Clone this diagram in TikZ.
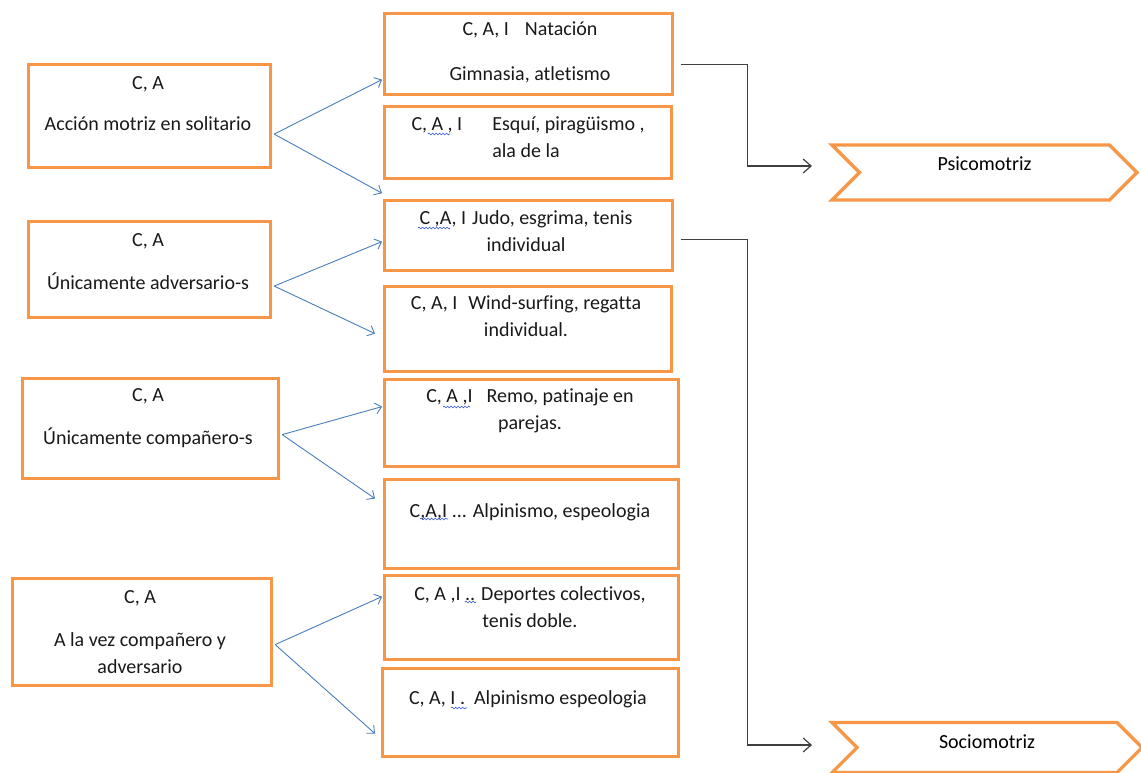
\documentclass[tikz,border=0pt]{standalone}
\usepackage{fontspec}
\setmainfont{Carlito}[Ligatures=NoCommon]
\usetikzlibrary{arrows.meta,shapes.symbols,positioning,decorations.pathmorphing}

\definecolor{boxorange}{HTML}{F79646}
\definecolor{linkblue}{HTML}{4A7EBB}
\definecolor{linkgray}{HTML}{404040}
\definecolor{squig}{HTML}{3050E0}

\tikzset{
  box/.style={draw=boxorange, line width=3.2pt, anchor=north west, inner sep=0pt},
  txt/.style={font=\fontsize{20}{27}\selectfont, align=center, text=black!90},
  flag/.style={signal, signal from=west, signal to=east, signal pointer angle=90,
    draw=boxorange, line width=3.2pt, inner sep=0pt, font=\fontsize{20}{24}\selectfont},
  fan/.style={draw=linkblue, line width=0.9pt, -{Straight Barb[length=6pt,width=11pt]}},
  link/.style={draw=linkgray, line width=1.2pt, -{Straight Barb[length=8pt,width=14pt]}},
  wave/.style={draw=squig, line width=0.6pt, decorate,
    decoration={snake, amplitude=0.9pt, segment length=3.5pt}}
}

\begin{document}
\begin{tikzpicture}[x=1pt, y=-1pt]
\useasboundingbox (0,0) rectangle (1141,773);

% left column
\node[box, minimum width=242, minimum height=103] (l1) at (27,63) {};
\node[box, minimum width=242, minimum height=96] (l2) at (27,220) {};
\node[box, minimum width=256, minimum height=100] (l3) at (21,377) {};
\node[box, minimum width=259, minimum height=107] (l4) at (11,577) {};
\node[txt] (l1t) at (148,103.5) {C, A\\[14pt]Acción motriz en solitario};
\node[txt] (l2t) at (148,261.5) {C, A\\[16pt]Únicamente adversario-s};
\node[txt] (l3t) at (148,418.5) {C, A\\[16pt]Únicamente compañero-s};
\node[txt] (l4t) at (140,632) {C, A\\[16pt]A la vez compañero y\\adversario};

% middle column
\node[box, minimum width=288, minimum height=81] (m1) at (383,12) {};
\node[box, minimum width=287, minimum height=72] (m2) at (383,105) {};
\node[box, minimum width=288, minimum height=70] (m3) at (383,199) {};
\node[box, minimum width=287, minimum height=85] (m4) at (383,285) {};
\node[box, minimum width=294, minimum height=87] (m5) at (383,378) {};
\node[box, minimum width=294, minimum height=89] (m6) at (383,478) {};
\node[box, minimum width=294, minimum height=84] (m7) at (383,574) {};
\node[box, minimum width=296, minimum height=88] (m8) at (381,667) {};
\node[txt] (m1t) at (530,52.5) {C, A, I\hspace{16pt}Natación\\[18pt]Gimnasia, atletismo};
\node[txt, anchor=west] (m2t) at (408,138.5)
  {\begin{tabular}{@{}l@{\hspace{30pt}}l@{}}C, A , I & Esquí, piragüismo ,\\ & ala de la\end{tabular}};
\node[txt] (m3t) at (526,231.5) {C ,A, I\hspace{6pt}Judo, esgrima, tenis\\individual};
\node[txt] (m4t) at (526,316.5) {C, A, I\hspace{11pt}Wind-surfing, regatta\\individual.};
\node[txt] (m5t) at (530,411) {C, A ,I\hspace{14pt}Remo, patinaje en\\parejas.};
\node[txt] (m6t) at (530,512) {C,A,I ... Alpinismo, espeologia};
\node[txt] (m7t) at (530,607) {C, A ,I .. Deportes colectivos,\\tenis doble.};
\node[txt] (m8t) at (528,699) {C, A, I .\ \ Alpinismo espeologia};

% spell-check waves
\draw[wave] (428,134) -- (450,134);
\draw[wave] (418,228) -- (450,228);
\draw[wave] (443,407) -- (470,407);
\draw[wave] (420,519) -- (448,519);
\draw[wave] (465,602) -- (476,602);
\draw[wave] (451,708) -- (467,708);

% right column
\node[flag, minimum width=305, minimum height=55, text depth=18pt] (psico) at (984.5,172.5) {Psicomotriz};
\node[flag, minimum width=310, minimum height=50, text depth=11pt] (socio) at (987,747.5) {Sociomotriz};
\coordinate (psin) at (812,166);
\coordinate (soin) at (812,745);

% blue arrows
\draw[fan] ([shift={(2,18)}]l1.east) -- ([shift={(-1,25.5)}]m1.west);
\draw[fan] ([shift={(2,18)}]l1.east) -- ([shift={(-1,13)}]m2.south west);
\draw[fan] ([shift={(2,16.5)}]l2.east) -- ([shift={(-1,6)}]m3.west);
\draw[fan] ([shift={(2,16.5)}]l2.east) -- ([shift={(-8,4.5)}]m4.west);
\draw[fan] ([shift={(2,6)}]l3.east) -- ([shift={(-1,-16.5)}]m5.west);
\draw[fan] ([shift={(2,6)}]l3.east) -- ([shift={(-8,-25.5)}]m6.west);
\draw[fan] ([shift={(2,12.5)}]l4.east) -- ([shift={(-1,-21)}]m7.west);
\draw[fan] ([shift={(2,12.5)}]l4.east) -- ([shift={(-6,21)}]m8.west);

% to the two kinds
\draw[link] ([shift={(7,10.5)}]m1.east) -- ++(66,0) |- (psin);
\draw[link] ([shift={(7,4)}]m3.east) -- ++(66,0) |- (soin);
\end{tikzpicture}
\end{document}
